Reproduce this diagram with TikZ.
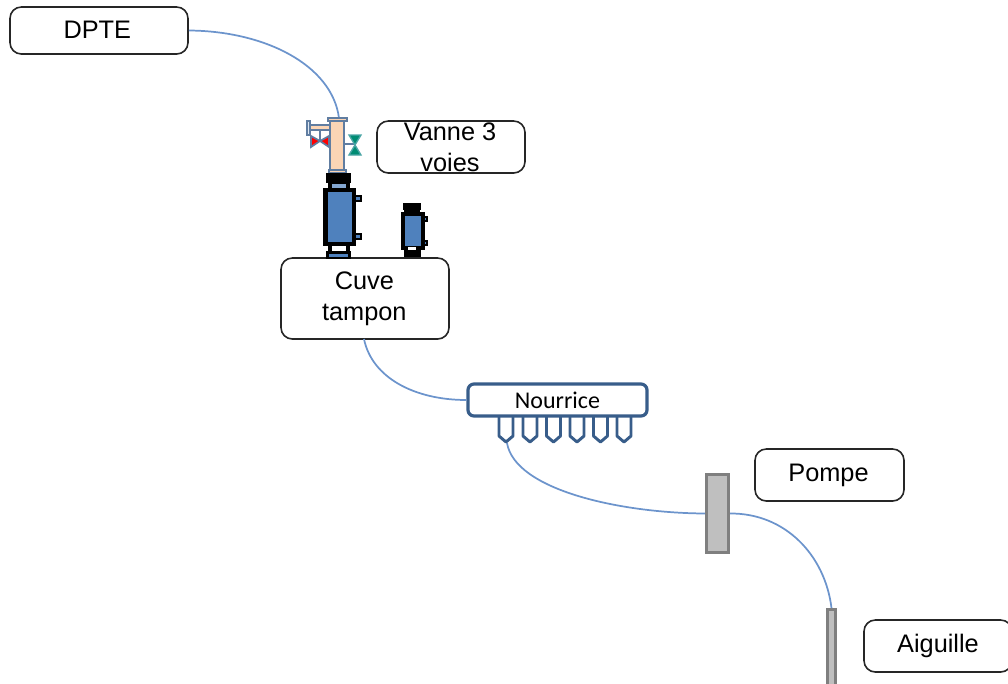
\documentclass[tikz,border=0pt]{standalone}
\usepackage{fontspec}
\setmainfont{Liberation Sans}
\newfontfamily\calibrilike{Carlito}
\definecolor{wire}{HTML}{6C94CC}
\definecolor{steel}{HTML}{4F81BD}
\definecolor{dsteel}{HTML}{385D8A}
\definecolor{peach}{HTML}{FBD5B5}
\definecolor{pgrey}{HTML}{BFBFBF}
\definecolor{dgrey}{HTML}{7F7F7F}
\tikzset{
  x=0.75pt,y=-0.75pt,
  labelbox/.style={draw=black!85,line width=1.2pt,rounded corners=8.5pt,fill=white,inner sep=0pt,align=center,font=\fontsize{19}{23.5}\selectfont},
  wireline/.style={draw=wire,line width=1.3pt},
  tap/.style={draw=dsteel,line width=2.2pt,fill=white,line join=round},
  blackpart/.style={draw=black,line width=2.6pt},
  bluepart/.style={fill=steel,draw=black,line width=3.6pt},
  valvepart/.style={draw=dsteel!80,line width=1.3pt}
}
\newcommand{\labelbox}[6]{\node[labelbox,minimum width=#3*0.75pt,minimum height=#4*0.75pt] (#5) at (#1,#2) {#6};}
\begin{document}
\begin{tikzpicture}
\useasboundingbox (0,0) rectangle (1008,683);
\clip (0,0) rectangle (1008,683);
% boxes
\labelbox{99}{30.5}{178}{47}{dpte}{\hspace*{-2.5pt}\raisebox{1pt}{DPTE}}
\labelbox{451}{147}{148}{52}{vanne}{\hspace*{-1.5pt}\raisebox{1.5pt}{Vanne 3}\\[-1.5pt]\hspace*{-1.5pt}voies}
\labelbox{365}{298.5}{168}{81}{cuve}{\hspace*{-1pt}\raisebox{-1pt}{Cuve}\\\hspace*{-1pt}\raisebox{-1pt}{tampon}}
\labelbox{829.5}{475}{149}{52}{pompe}{\hspace*{-1.5pt}Pompe}
\labelbox{938}{646}{148}{52}{aiguille}{\raisebox{-1pt}{Aiguille}}
% valve tube anchor and coordinates
\coordinate (valvetop) at (339,118);
\coordinate (cuveout) at (364,339);
\coordinate (tapone) at (507,443);
% pump and needle
\node[draw=dgrey,fill=pgrey,line width=2.4pt,minimum width=22*0.75pt,minimum height=78*0.75pt,inner sep=0pt] (pump) at (717.5,513.5) {};
\node[draw=dgrey,fill=pgrey,line width=2.2pt,minimum width=8*0.75pt,minimum height=80*0.75pt,inner sep=0pt,anchor=north] (needle) at (831.5,608) {};
% Nourrice taps
\foreach \n/\cx in {1/506,2/530,3/553.5,4/577,5/600.5,6/624}{
  \draw[tap] (\cx-7,416) -- (\cx-7,436) -- (\cx,442) -- (\cx+7,436) -- (\cx+7,416);
}
\node[draw=dsteel,line width=2.4pt,fill=white,rounded corners=4.5pt,minimum width=179*0.75pt,minimum height=32*0.75pt,inner sep=0pt,font=\calibrilike\fontsize{18}{20}\selectfont] (nourrice) at (557.5,400) {\raisebox{-1.5pt}{Nourrice}};
% connectors
\draw[wireline] (dpte.east) ++(0,0) .. controls (265,31) and (332,65) .. (valvetop);
\draw[wireline] (cuveout) .. controls (372,378) and (415,400) .. (nourrice.west);
\draw[wireline] (tapone) .. controls (515,490) and (620,513) .. (pump.west);
\draw[wireline] (pump.east) .. controls (785,513) and (825,555) .. (needle.north);
% valve
\draw[valvepart,fill=peach] (330,120) rectangle (344,172);
\draw[valvepart,fill=peach] (328,118) rectangle (347,121);
\draw[valvepart,fill=peach] (329,170) rectangle (346,173);
\draw[valvepart,fill=peach] (310,125) rectangle (330,130);
\draw[valvepart,fill=white!80!steel] (307,121) rectangle (310,135);
\draw[valvepart] (320,130) -- (320,141);
\draw[valvepart,fill=red] (311,136) -- (320,141) -- (311,147) -- cycle;
\draw[valvepart,fill=red] (329,136) -- (320,141) -- (329,147) -- cycle;
\draw[valvepart] (344,144) -- (354,144);
\draw[draw=teal!70,line width=1pt,fill=teal!90!green] (349,135) -- (361,135) -- (355,145) -- cycle;
\draw[draw=teal!70,line width=1pt,fill=teal!90!green] (349,155) -- (361,155) -- (355,145) -- cycle;
% big tank
\fill (326,173) rectangle (351,183);
\draw[blackpart,fill=white] (330,183) rectangle (348,190);
\fill[steel!70] (332,184) rectangle (346,188);
\draw[bluepart] (325.5,190) rectangle (354,244);
\draw[blackpart,fill=white] (330,244) rectangle (348,253);
\fill (326,251) rectangle (351,259);
\fill[steel] (329,254) rectangle (348,257);
\draw[draw=black,line width=1.6pt,fill=steel] (355,196) rectangle (361,201);
\draw[draw=black,line width=1.6pt,fill=steel] (355,234) rectangle (361,239);
% small tank
\fill (403,203) rectangle (421,210);
\draw[blackpart,fill=white] (406,210) rectangle (418,214);
\draw[bluepart] (403,214) rectangle (423,248);
\fill (404,249) rectangle (421,257);
\fill[white] (408,247) rectangle (416,250);
\draw[draw=black,line width=1.2pt,fill=steel] (424,217) rectangle (427,221);
\draw[draw=black,line width=1.2pt,fill=steel] (424,241) rectangle (427,245);
\end{tikzpicture}
\end{document}
